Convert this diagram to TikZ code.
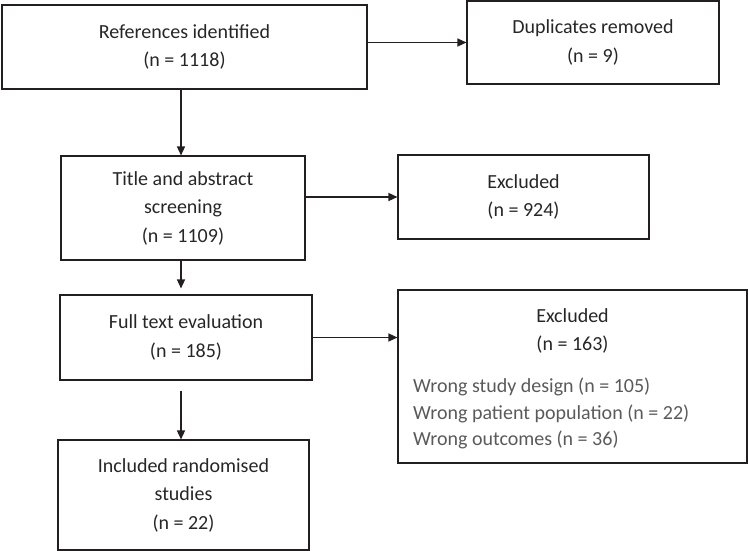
\documentclass[tikz,border=0pt]{standalone}
\usepackage{fontspec}
\setmainfont{Carlito}
\usetikzlibrary{arrows.meta}
\definecolor{ink}{HTML}{231F20}
\definecolor{txt}{HTML}{262626}
\definecolor{gtxt}{HTML}{5A5A5A}
\begin{document}
\begin{tikzpicture}[x=1pt,y=-1pt,
  box/.style={draw=ink,line width=1.1pt,inner sep=0pt,align=center,text=txt,
    font=\fontsize{20}{28.5}\selectfont},
  conn/.style={draw=ink,line width=1.3pt,-{Triangle[length=9pt,width=8pt]}},
]
\useasboundingbox (0,0) rectangle (748,551);
% boxes
\node[box,minimum width=365pt,minimum height=84pt] (b1) at (184.5,47) {References identified\\(n = 1118)};
\node[box,minimum width=252pt,minimum height=83pt] (dup) at (593,42.5) {Duplicates removed\\(n = 9)};
\node[box,minimum width=244pt,minimum height=104pt] (t) at (183,208) {Title and abstract\\screening\\(n = 1109)};
\node[box,minimum width=251pt,minimum height=84pt] (e1) at (523.5,197) {Excluded\\(n = 924)};
\node[box,minimum width=252pt,minimum height=85pt] (f) at (186,337.5) {Full text evaluation\\(n = 185)};
\node[box,minimum width=349pt,minimum height=173pt] (e2) at (572.5,376.5) {};
\node[box,minimum width=251pt,minimum height=110pt] (inc) at (183.5,495) {Included randomised\\studies\\(n = 22)};
% text inside e2
\node[align=center,text=txt,font=\fontsize{20}{28}\selectfont,inner sep=0pt] (e2h) at (572.5,331) {Excluded\\(n = 163)};
\node[align=left,anchor=west,text=gtxt,font=\fontsize{20}{26.5}\selectfont,inner sep=0pt] (e2l) at (413,413.5) {Wrong study design (n = 105)\\Wrong patient population (n = 22)\\Wrong outcomes (n = 36)};
% connector x
\coordinate (ax) at (181,0);
% connectors
\draw[conn] (b1.south -| ax) -- (t.north -| ax);
\draw[conn,shorten >=6pt] (t.south -| ax) -- (f.north -| ax);
\draw[conn,shorten <=10pt] (f.south -| ax) -- (inc.north -| ax);
\draw[conn] (b1.east |- dup.west) -- (dup.west);
\draw[conn] (t.east |- e1.west) -- (e1.west);
\draw[conn] (f.east) -- (f.east -| e2.west);
\end{tikzpicture}
\end{document}
